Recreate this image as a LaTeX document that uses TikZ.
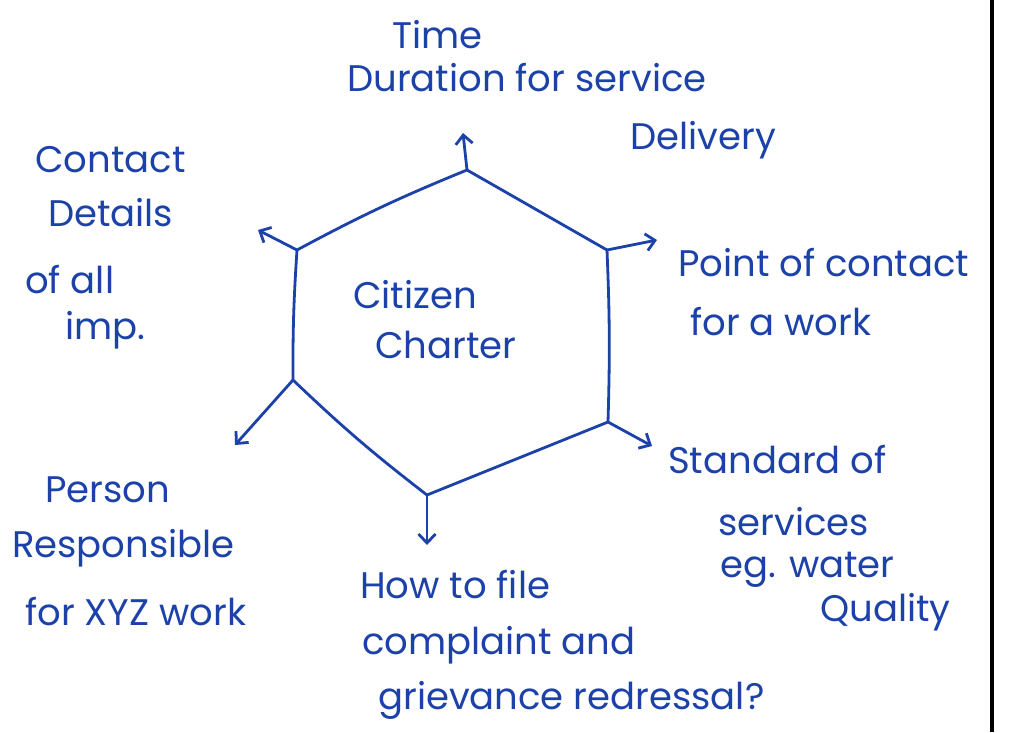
\documentclass[tikz,border=0pt]{standalone}
\usepackage{fontspec}
\setmainfont{Poppins}
\usetikzlibrary{arrows.meta}
\definecolor{ink}{RGB}{28,66,170}
\tikzset{
  hand/.style={text=ink,font=\fontsize{37}{40}\selectfont,inner sep=0pt,anchor=west},
  edge/.style={draw=ink,line width=2.8pt,line join=round},
  spoke/.style={draw=ink,line width=2.8pt,-{Straight Barb[length=9pt,width=17pt]}}
}
\begin{document}
\begin{tikzpicture}[x=1pt,y=-1pt]
\useasboundingbox[fill=white] (0,0) rectangle (1014,732);
\draw[line width=4pt] (992,0) -- (992,732);
% hexagon
\coordinate (t) at (467,170); \coordinate (ur) at (607,250); \coordinate (lr) at (608,422);
\coordinate (b) at (427,495); \coordinate (ll) at (293,380); \coordinate (ul) at (297,250);
\draw[edge] (t) -- (ur) to[bend left=2] (lr) -- (b) to[bend left=3] (ll) to[bend left=2] (ul) to[bend left=3] (t);
\coordinate (tE) at (463,133); \coordinate (urE) at (657,240); \coordinate (lrE) at (652,446);
\coordinate (bE) at (427,545); \coordinate (llE) at (235,445); \coordinate (ulE) at (258,230);
\foreach \a in {t,ur,lr,b,ll,ul} \draw[spoke] (\a) -- (\a E);
\node[hand] (cit) at (353,295) {Citizen}; \node[hand] (cha) at (375,345) {Charter};
% labels
\node[hand] (time) at (392,35) {Time};
\node[hand] (dur) at (347,78) {Duration for service};
\node[hand] (del) at (630,140) {Delivery};
\node[hand] (con) at (35,160) {Contact}; \node[hand] (det) at (48,213) {Details};
\node[hand] (ofall) at (25,280) {of all}; \node[hand] (imp) at (65,330) {imp.};
\node[hand] (poc) at (678,263) {Point of contact}; \node[hand] (faw) at (690,322) {for a work};
\node[hand] (std) at (668,460) {Standard of}; \node[hand] (ser) at (718,522) {services};
\node[hand] (eg) at (720,570) {eg. water}; \node[hand] (qua) at (820,612) {Quality};
\node[hand] (per) at (45,490) {Person}; \node[hand] (res) at (12,548) {Responsible};
\node[hand] (xyz) at (25,612) {for XYZ work};
\node[hand] (how) at (360,585) {How to file}; \node[hand] (comp) at (362,645) {complaint and};
\node[hand] (grv) at (378,700) {grievance redressal?};
\end{tikzpicture}
\end{document}
